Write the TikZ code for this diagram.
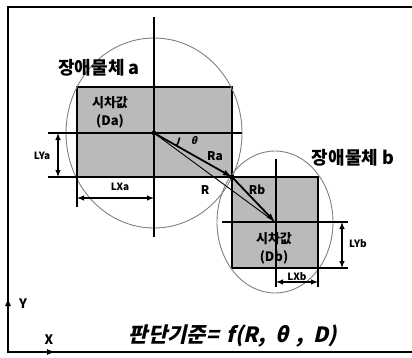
\documentclass[tikz,border=0pt]{standalone}
\usepackage{tikz}
\usetikzlibrary{arrows.meta}
\usetikzlibrary{positioning}
\usepackage{xcolor}
\usepackage{fontspec}
\newfontfamily\kr{Noto Sans CJK KR}
\newfontfamily\krsl{Noto Sans CJK KR}[FakeSlant=0.22]

\begin{document}
\begin{tikzpicture}[x=1pt, y=-1pt,
	obst/.style={draw, line width=1.3pt, fill=black!27, inner sep=0pt},
	guide/.style={line width=1.1pt},
	ring/.style={draw=black!50, line width=0.9pt},
	dim/.style={{Latex[length=7pt,width=5.5pt]}-{Latex[length=7pt,width=5.5pt]}, line width=1.1pt},
	vec/.style={-{Latex[length=9pt,width=6pt]}, line width=1.8pt},
	lbl/.style={font=\kr\bfseries, inner sep=0pt}]
			\useasboundingbox (0,0) rectangle (412,357);
			
			% frame with the two axes
			\draw[line width=1.8pt] (412,7) -- (8,7) -- (8,352) -- (412,352);
			\draw[-{Latex[length=9pt,width=6pt]}, line width=1.8pt] (8,312) -- (8,297);
			\draw[-{Latex[length=9pt,width=6pt]}, line width=1.8pt] (40,352) -- (56,352);
			\node[lbl, font=\kr\bfseries\fontsize{13}{13}\selectfont] (ylab) at (23,304) {Y};
			\node[lbl, font=\kr\bfseries\fontsize{13}{13}\selectfont] (xlab) at (49,340) {X};
			
			\coordinate (ca) at (154,133);
			\coordinate (cb) at (275,222);
			\coordinate (P) at (232,177);
			
			% obstacles
			\node[obst, minimum width=155pt, minimum height=90pt] (ra) at (154.5,132) {};
			\node[obst, minimum width=86pt, minimum height=91pt] (rb) at (275,222.5) {};
			\draw[ring] (ca) ellipse [x radius=88, y radius=95];
			\draw[ring] (cb) ellipse [x radius=58, y radius=71];
			
			\draw[guide] (48,133) -- (242,133);
			\draw[guide] (48,177) -- (318,177);
			\draw[guide] (222,222) -- (348,222);
			\draw[guide] (318,268) -- (348,268);
			\draw[guide] (154,17) -- (154,237);
			\draw[guide] (276,159) -- (276,287);
			\draw[guide] (77,177) -- (77,207);
			\draw[guide] (318,268) -- (318,287);
			
			% dimensions
			\draw[dim] (58,133) -- (58,177);
			\draw[dim] (77,198) -- (154,198);
			\draw[dim] (342,222) -- (342,268);
			\draw[dim] (276,282) -- (318,282);
			\node[lbl, font=\kr\bfseries\fontsize{10}{10}\selectfont] (lya) at (42,156) {LYa};
			\node[lbl, font=\kr\bfseries\fontsize{10}{10}\selectfont] (lxa) at (120,187) {LXa};
			\node[lbl, font=\kr\bfseries\fontsize{10}{10}\selectfont] (lyb) at (358,244) {LYb};
			\node[lbl, font=\kr\bfseries\fontsize{10}{10}\selectfont] (lxb) at (297,277) {LXb};
			
			% distance and angle
			\draw[line width=0.9pt] (ca) -- (cb);
			\draw[vec] (ca) -- (P);
			\draw[vec] (P) -- (cb);
			\fill (ca) circle (2.4pt);
			\fill (P) circle (2.6pt);
			\draw[line width=1.6pt] (ca) ++(30:26) arc[start angle=30, end angle=10, radius=26];
			\node[lbl, font=\krsl\bfseries\fontsize{10}{10}\selectfont] (th) at (194,140) {θ};
			\node[lbl, font=\kr\bfseries\fontsize{12}{12}\selectfont] (lra) at (215,156) {Ra};
			\node[lbl, font=\kr\bfseries\fontsize{12}{12}\selectfont] (lr) at (205,190) {R};
			\node[lbl, font=\kr\bfseries\fontsize{12}{12}\selectfont] (lrb) at (257,190) {Rb};
			
			% texts
			\node[lbl, font=\kr\bfseries\fontsize{18}{18}\selectfont] (na) at (99,68) {장애물체 a};
			\node[lbl, font=\kr\bfseries\fontsize{18}{18}\selectfont] (nb) at (353,158) {장애물체 b};
			\node[lbl, align=center, font=\kr\bfseries\fontsize{13}{18}\selectfont] (da) at (110,112) {시차값\\(Da)};
			\node[lbl, align=center, font=\kr\bfseries\fontsize{13}{18}\selectfont] (db) at (274,248) {시차값\\(Db)};
			\node[lbl, font=\krsl\bfseries\fontsize{21}{21}\selectfont] (crit) at (233,336) {판단기준=\hspace{8pt}f(R,\hspace{10pt}θ\hspace{7pt},\hspace{10pt}D)};
			
		\end{tikzpicture}
\end{document}
